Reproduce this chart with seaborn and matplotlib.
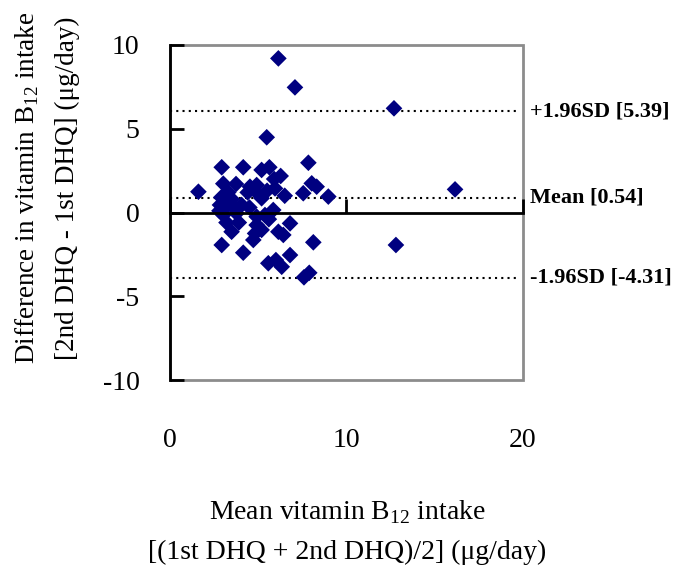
import matplotlib
matplotlib.use("Agg")
import matplotlib.pyplot as plt
import seaborn as sns
import pandas as pd
from matplotlib.patches import Rectangle

# ---- data ----
mean_intake = [6.14, 7.08, 12.69, 5.48, 7.84, 2.93, 4.15, 5.19, 5.63, 6.27,
               3.02, 3.74, 4.53, 4.91, 5.95, 1.61, 7.55, 8.03, 8.31, 8.97,
               16.15, 5.19, 2.83, 3.21, 3.68, 4.06, 5.85, 4.91, 5.38, 2.93,
               3.49, 4.15, 4.72, 3.02, 3.77, 4.91, 5.19, 4.82, 6.14, 6.42,
               6.80, 8.12, 12.8, 5.57, 6.00, 6.33, 6.80, 7.59, 7.89, 2.90,
               3.30, 4.40, 5.00, 5.50, 3.90, 5.60, 5.90, 3.50, 4.50, 3.20,
               6.50, 2.80]
difference = [9.2, 7.47, 6.22, 4.49, 2.97, 2.70, 2.70, 2.54, 2.70, 2.18,
              1.72, 1.70, 1.54, 1.64, 1.44, 1.24, 1.15, 1.74, 1.54, 0.95,
              1.38, 0.85, 0.45, 0.35, 0.25, 0.45, 0.15, -0.25, -0.15, -1.94,
              -1.15, -2.40, -1.64, -0.15, -0.05, -0.75, -1.04, -1.25, -1.15, -1.34,
              -0.65, -1.78, -1.94, -3.03, -2.84, -3.24, -2.54, -3.87, -3.60, 0.90,
              1.20, 1.20, 1.10, 1.30, -0.60, -0.40, 2.00, 0.80, 0.30, -0.60,
              1.00, 0.10]
ref_lines = [6.05, 0.88, -3.9]
ref_labels = ["+1.96SD [5.39]", "Mean [0.54]", "-1.96SD [-4.31]"]
x_ticks = [0, 10, 20]
y_ticks = [-10, -5, 0, 5, 10]

df = pd.DataFrame({"mean": mean_intake, "diff": difference})

sns.set_style("white")
plt.rcParams["font.family"] = ["Liberation Serif", "DejaVu Serif"]
plt.rcParams["mathtext.fontset"] = "custom"
plt.rcParams["mathtext.rm"] = "Liberation Serif"
plt.rcParams["text.color"] = "black"
plt.rcParams["xtick.labelcolor"] = "black"
plt.rcParams["ytick.labelcolor"] = "black"

W, H = 676, 573
fig = plt.figure(figsize=(W / 100, H / 100), dpi=100)
L, R, T, B = 170, 523, 45, 380
ax = fig.add_axes([L / W, 1 - B / H, (R - L) / W, (B - T) / H])
ax.set_axisbelow(False)

sns.scatterplot(data=df, x="mean", y="diff", marker="D", color="#000080",
                s=72, edgecolor="none", ax=ax, zorder=4)

ax.set_xlim(0, 20)
ax.set_ylim(-10, 10)

for yv in ref_lines:
    ax.plot([0, 19.7], [yv, yv], color="black", lw=1.5,
            linestyle=(0, (1, 2)), zorder=2)

# gray frame
ax.add_patch(Rectangle((0, 0), 1, 1, transform=ax.transAxes, fill=False,
                       edgecolor="#8c8c8c", lw=2, zorder=1, clip_on=False))
for s in ["top", "right"]:
    ax.spines[s].set_visible(False)
ax.spines["left"].set_color("black")
ax.spines["left"].set_linewidth(2)
ax.spines["left"].set_zorder(5)
ax.spines["bottom"].set_position(("data", 0))
ax.spines["bottom"].set_color("black")
ax.spines["bottom"].set_linewidth(2)
ax.spines["bottom"].set_zorder(5)

ax.set_xticks(x_ticks)
ax.set_yticks(y_ticks)
ax.set_xticklabels([str(v) for v in x_ticks])
ax.set_yticklabels([str(v) for v in y_ticks])
ax.tick_params(axis="y", direction="in", length=10, width=2, color="black",
               pad=22, labelsize=20, left=True, labelcolor="black")
ax.tick_params(axis="x", direction="in", length=10, width=2, color="black",
               pad=155, labelsize=20, bottom=True, labelcolor="black")
ax.set_xlabel("")
ax.set_ylabel("")

for yv, lab in zip(ref_lines, ref_labels):
    ax.annotate(lab, xy=(1, yv), xycoords=("axes fraction", "data"),
                xytext=(5, 0), textcoords="offset points", ha="left",
                va="center", fontsize=16, fontweight="bold", color="black",
                annotation_clip=False)

fig.text(27 / W, 1 - 188 / H, "Difference in vitamin B$_{12}$ intake",
         rotation=90, ha="center", va="center", fontsize=19.5, color="black")
fig.text(67 / W, 1 - 188 / H, "[2nd DHQ - 1st DHQ] (\u03bcg/day)",
         rotation=90, ha="center", va="center", fontsize=19.5, color="black")
fig.text(347 / W, 1 - 512 / H, "Mean vitamin B$_{12}$ intake",
         ha="center", va="center", fontsize=20, color="black")
fig.text(347 / W, 1 - 552 / H, "[(1st DHQ + 2nd DHQ)/2] (\u03bcg/day)",
         ha="center", va="center", fontsize=20, color="black")

fig.savefig("out.png", dpi=100)
